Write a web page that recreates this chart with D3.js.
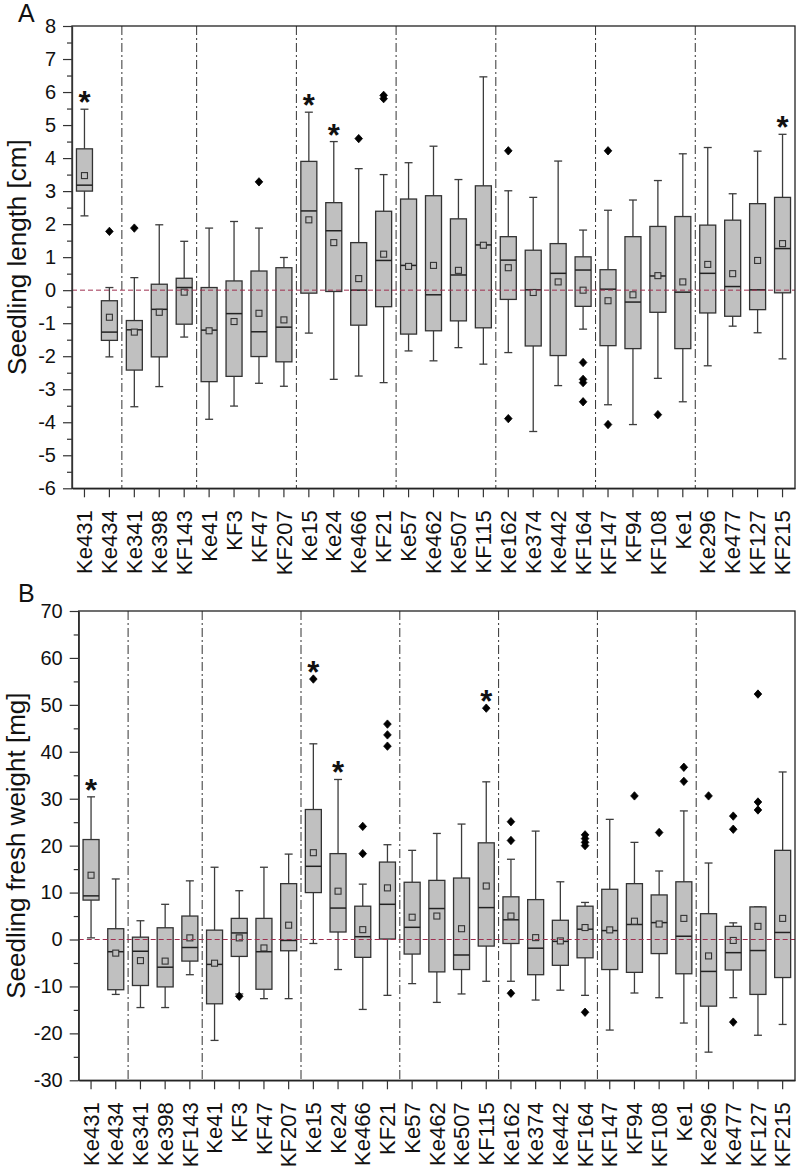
<!DOCTYPE html>
<html><head><meta charset="utf-8">
<script src="https://cdn.jsdelivr.net/npm/d3@7/dist/d3.min.js"></script>
<style>
body{margin:0;background:#fff}
svg{display:block}
text{font-family:"Liberation Sans",Arial,Helvetica,sans-serif}
</style>
</head><body>
<svg id="chart" width="796" height="1167"></svg>
<script>
// ---------- DATA ----------
const categories = ["Ke431","Ke434","Ke341","Ke398","KF143","Ke41","KF3","KF47","KF207",
  "Ke15","Ke24","Ke466","KF21","Ke57","Ke462","Ke507","KF115","Ke162","Ke374","Ke442","KF164",
  "KF147","KF94","KF108","Ke1","Ke296","Ke477","KF127","KF215"];
// index of first category in each new group (dash-dot separators)
const groupStarts = [2,5,9,13,17,21,25];

// Panel A: seedling length [cm]
const lenTicks = [-6,-5,-4,-3,-2,-1,0,1,2,3,4,5,6,7,8];
const lenLow  = [2.25,-2.02,-3.53,-2.92,-1.42,-3.91,-3.51,-2.82,-2.91,-1.3,-2.7,-2.6,-2.8,-1.84,-2.14,-1.74,-2.24,-1.89,-4.28,-2.89,-1.18,-3.47,-4.07,-2.67,-3.38,-2.29,-1.09,-1.29,-2.08];
const lenQ1   = [3.0,-1.52,-2.42,-2.02,-1.03,-2.77,-2.61,-2.01,-2.17,-0.09,-0.04,-1.06,-0.5,-1.33,-1.23,-0.93,-1.14,-0.28,-1.69,-1.98,-0.49,-1.68,-1.77,-0.67,-1.77,-0.69,-0.79,-0.59,-0.08];
const lenMed  = [3.18,-1.27,-1.2,-0.58,0.08,-1.21,-0.71,-1.26,-1.12,2.4,1.8,0.0,0.9,0.75,-0.14,0.46,1.37,0.91,0.01,0.51,0.61,0.03,-0.36,0.43,-0.06,0.51,0.11,0.01,1.26];
const lenQ3   = [4.28,-0.32,-0.92,0.18,0.36,0.08,0.28,0.58,0.68,3.9,2.65,1.44,2.39,2.76,2.86,2.16,3.16,1.62,1.21,1.41,1.01,0.62,1.62,1.93,2.23,1.97,2.12,2.62,2.81];
const lenHigh = [5.48,0.08,0.38,1.98,1.48,1.88,2.08,1.88,0.99,5.39,4.5,3.68,3.5,3.86,4.36,3.35,6.46,3.01,2.81,3.91,1.82,2.42,2.73,3.32,4.13,4.32,2.92,4.21,4.72];
const lenMean = [3.47,-0.82,-1.27,-0.67,-0.06,-1.23,-0.95,-0.7,-0.9,2.13,1.44,0.35,1.09,0.72,0.75,0.6,1.36,0.68,-0.07,0.25,0.0,-0.32,-0.14,0.44,0.25,0.78,0.5,0.9,1.41];
const lenOutliers = [[],[1.78],[1.88],[],[],[],[],[3.28],[],[],[],[4.59],[5.8,5.9],[],[],[],[],
  [4.22,-3.89],[],[],[-2.19,-2.7,-2.8,-3.38],[4.22,-4.07],[],[-3.77],[],[],[],[],[]];
const lenStars = ["Ke431","Ke15","Ke24","KF215"];

// Panel B: seedling fresh weight [mg]
const wtTicks = [-30,-20,-10,0,10,20,30,40,50,60,70];
const wtLow  = [0.35,-11.7,-14.5,-14.5,-7.5,-21.5,-11.6,-12.6,-12.6,-0.85,-6.4,-14.9,-11.9,-9.4,-13.4,-11.6,-8.9,-8.9,-12.9,-10.8,-11.9,-19.3,-11.4,-12.4,-17.8,-24.0,-12.4,-20.4,-18.1];
const wtQ1   = [8.4,-10.7,-9.8,-10.1,-4.6,-13.7,-3.6,-10.6,-2.4,10.0,1.6,-3.8,0.1,-3.1,-6.9,-6.4,-1.4,-0.85,-7.5,-5.5,-3.9,-6.4,-7.0,-3.0,-7.3,-14.2,-6.5,-11.7,-8.1];
const wtMed  = [9.3,-2.6,-2.5,-5.9,-1.7,-5.3,1.4,-2.6,-0.2,15.6,6.7,0.6,7.5,2.6,6.6,-3.3,6.8,4.2,-1.85,-0.4,2.2,1.9,3.2,3.6,0.7,-6.8,-2.8,-2.35,1.5];
const wtQ3   = [21.3,2.3,0.5,2.5,5.0,2.0,4.5,4.5,11.9,27.7,18.3,7.1,16.5,12.2,12.6,13.1,20.6,9.1,8.5,4.1,7.1,10.7,11.9,9.5,12.3,5.5,2.8,6.95,19.0];
const wtHigh = [30.4,12.9,4.0,7.5,12.5,15.4,10.4,15.4,18.2,41.7,34.1,11.8,20.2,19.0,22.6,24.6,33.6,17.1,23.1,12.3,7.9,25.6,20.7,14.6,27.4,16.3,3.55,6.95,35.7];
const wtMean = [13.7,-2.9,-4.5,-4.6,0.35,-5.05,0.35,-1.8,3.05,18.5,10.3,2.1,11.0,4.75,5.0,2.3,11.4,5.0,0.4,-0.3,2.55,2.05,3.9,3.3,4.5,-3.5,-0.2,2.8,4.5];
const wtOutliers = [[],[],[],[],[],[],[-12.1],[],[],[55.5],[],[24.1,18.3],[45.9,43.6,41.2],[],[],[],[49.3],
  [25.1,21.1,-11.45],[],[],[22.3,21.5,20.7,20.0,-15.5],[],[30.6],[22.8],[36.7,33.7],[30.6],[26.3,23.5,-17.6],[52.3,29.3,27.6],[]];
const wtStars = ["Ke431","Ke15","Ke24","KF115"];

// ---------- DRAW ----------
const svg = d3.select("#chart");

function drawPanel(cfg) {
  const g = svg.append("g");
  const x = d3.scaleBand().domain(categories).range([cfg.left, cfg.right]).padding(0);
  const y = d3.scaleLinear().domain([cfg.ticks[0], cfg.ticks[cfg.ticks.length-1]]).range([cfg.bottom, cfg.top]);
  const cx = d => x(d) + x.bandwidth()/2;

  // group separators
  g.selectAll("line.sep").data(groupStarts).enter().append("line")
    .attr("x1", i => x(categories[i])).attr("x2", i => x(categories[i]))
    .attr("y1", cfg.top).attr("y2", cfg.bottom)
    .attr("stroke", "#333").attr("stroke-width", 1)
    .attr("stroke-dasharray", "9,3,2,3");

  const boxes = categories.map((c, i) => ({
    c, lo: cfg.low[i], q1: cfg.q1[i], med: cfg.med[i], q3: cfg.q3[i], hi: cfg.high[i],
    mean: cfg.mean[i], out: cfg.outliers[i]
  }));
  const bw = 16, cap = 8;
  const bg = g.selectAll("g.box").data(boxes).enter().append("g");
  // whiskers
  bg.append("line").attr("x1", d => cx(d.c)).attr("x2", d => cx(d.c))
    .attr("y1", d => y(d.q3)).attr("y2", d => y(d.hi))
    .attr("stroke", "#3c3c3c").attr("stroke-width", 1.3);
  bg.append("line").attr("x1", d => cx(d.c)).attr("x2", d => cx(d.c))
    .attr("y1", d => y(d.q1)).attr("y2", d => y(d.lo))
    .attr("stroke", "#3c3c3c").attr("stroke-width", 1.3);
  bg.append("line").attr("x1", d => cx(d.c) - cap/2).attr("x2", d => cx(d.c) + cap/2)
    .attr("y1", d => y(d.hi)).attr("y2", d => y(d.hi))
    .attr("stroke", "#3c3c3c").attr("stroke-width", 1.3);
  bg.append("line").attr("x1", d => cx(d.c) - cap/2).attr("x2", d => cx(d.c) + cap/2)
    .attr("y1", d => y(d.lo)).attr("y2", d => y(d.lo))
    .attr("stroke", "#3c3c3c").attr("stroke-width", 1.3);
  // box
  bg.append("rect").attr("x", d => cx(d.c) - bw/2).attr("width", bw)
    .attr("y", d => y(d.q3)).attr("height", d => y(d.q1) - y(d.q3))
    .attr("fill", "#c0c0c0").attr("stroke", "#333").attr("stroke-width", 1.3);

  // zero reference line (drawn over boxes)
  g.append("line").attr("x1", cfg.left).attr("x2", cfg.right)
    .attr("y1", y(0)).attr("y2", y(0))
    .attr("stroke", "#9e2f50").attr("stroke-width", 1)
    .attr("stroke-dasharray", "5,3");

  // median
  bg.append("line").attr("x1", d => cx(d.c) - bw/2).attr("x2", d => cx(d.c) + bw/2)
    .attr("y1", d => y(d.med)).attr("y2", d => y(d.med))
    .attr("stroke", "#222").attr("stroke-width", 1.5);
  // mean
  bg.append("rect").attr("x", d => cx(d.c) - 3).attr("y", d => y(d.mean) - 3)
    .attr("width", 6).attr("height", 6)
    .attr("fill", "#c0c0c0").attr("stroke", "#333").attr("stroke-width", 1.1);
  // outliers
  bg.selectAll("path.out").data(d => d.out.map(v => ({c: d.c, v}))).enter().append("path")
    .attr("d", o => {
      const px = cx(o.c), py = y(o.v);
      return `M${px},${py-4.2}L${px+3.8},${py}L${px},${py+4.2}L${px-3.8},${py}Z`;
    })
    .attr("fill", "#000").attr("stroke", "#000").attr("stroke-width", 0.8)
    .attr("stroke-linejoin", "round");

  // significance stars
  g.selectAll("text.star").data(cfg.stars).enter().append("text")
    .attr("x", c => cx(c))
    .attr("y", c => {
      const i = categories.indexOf(c);
      const top = Math.max(cfg.high[i], ...cfg.outliers[i]);
      return y(top) + 4;
    })
    .attr("text-anchor", "middle").attr("font-size", 31).attr("font-weight", "bold")
    .attr("fill", "#111")
    .text("*");

  // frame
  g.append("rect").attr("x", cfg.left).attr("y", cfg.top)
    .attr("width", cfg.right - cfg.left).attr("height", cfg.bottom - cfg.top)
    .attr("fill", "none").attr("stroke", "#222").attr("stroke-width", 1.3);

  // y axis: major + minor
  const minor = [];
  for (let k = 0; k < cfg.ticks.length - 1; k++) minor.push((cfg.ticks[k] + cfg.ticks[k+1]) / 2);
  const yAxis = g.append("g").attr("transform", `translate(${cfg.left},0)`)
    .call(d3.axisLeft(y).tickValues(cfg.ticks).tickSize(9).tickSizeOuter(0).tickPadding(7)
      .tickFormat(d => String(d)));
  g.append("g").attr("transform", `translate(${cfg.left},0)`)
    .call(d3.axisLeft(y).tickValues(minor).tickSize(5).tickSizeOuter(0).tickFormat(""))
    .call(a => a.select(".domain").remove());
  yAxis.selectAll("text").attr("font-size", 20).attr("fill", "#111")
    .style("font-family", '"Liberation Sans",Arial,sans-serif');
  g.selectAll(".tick line").attr("stroke", "#333").attr("stroke-width", 1.2);
  yAxis.select(".domain").attr("stroke", "#333").attr("stroke-width", 1.3);

  // x axis
  const xAxis = g.append("g").attr("transform", `translate(0,${cfg.bottom})`)
    .call(d3.axisBottom(x).tickSize(9).tickSizeOuter(0));
  xAxis.select(".domain").attr("stroke", "#222").attr("stroke-width", 1.3);
  xAxis.selectAll(".tick line").attr("stroke", "#333").attr("stroke-width", 1.2);
  xAxis.selectAll("text")
    .attr("transform", "rotate(-90)")
    .attr("text-anchor", "end")
    .attr("x", -22).attr("y", 0).attr("dy", "0.35em")
    .attr("font-size", 22).attr("fill", "#111")
    .style("font-family", '"Liberation Sans",Arial,sans-serif');

  // axis title
  g.append("text")
    .attr("transform", `translate(${cfg.titleX},${(cfg.top + cfg.bottom)/2}) rotate(-90)`)
    .attr("text-anchor", "middle").attr("font-size", 26).attr("fill", "#111")
    .text(cfg.title);
  // panel letter
  g.append("text").attr("x", 18).attr("y", cfg.letterY)
    .attr("font-size", 25).attr("fill", "#111").text(cfg.letter);
}

drawPanel({
  left: 72, right: 795, top: 26, bottom: 488.3,
  ticks: lenTicks, low: lenLow, q1: lenQ1, med: lenMed, q3: lenQ3, high: lenHigh,
  mean: lenMean, outliers: lenOutliers, stars: lenStars,
  title: "Seedling length [cm]", titleX: 26, letter: "A", letterY: 22
});
drawPanel({
  left: 78.7, right: 795, top: 611, bottom: 1080.3,
  ticks: wtTicks, low: wtLow, q1: wtQ1, med: wtMed, q3: wtQ3, high: wtHigh,
  mean: wtMean, outliers: wtOutliers, stars: wtStars,
  title: "Seedling fresh weight [mg]", titleX: 24.5, letter: "B", letterY: 602
});
</script>
</body></html>
